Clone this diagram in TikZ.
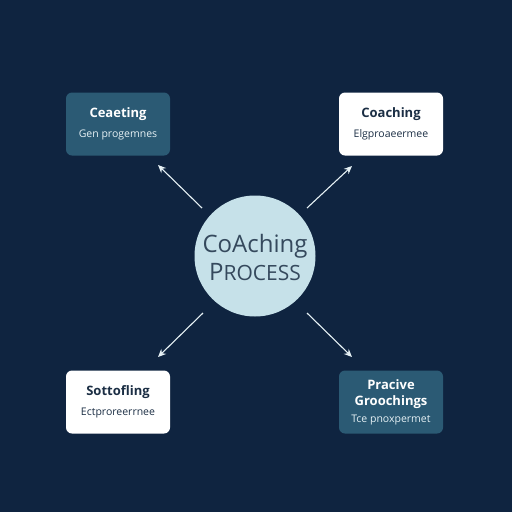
\documentclass[tikz,border=0pt]{standalone}
\usepackage{fontspec}
\setmainfont{Open Sans}
\usetikzlibrary{arrows.meta}
\definecolor{bg}{HTML}{0F2440}
\definecolor{teal}{HTML}{2B5A74}
\definecolor{circ}{HTML}{C6E1E9}
\definecolor{ink}{HTML}{1B2E44}
\definecolor{lite}{HTML}{E6F1F5}
\newcommand{\ttlf}{\fontsize{13}{16}\selectfont\bfseries}
\newcommand{\subf}{\fontsize{10.5}{13}\selectfont}
\tikzset{
  card/.style={rounded corners=6pt, minimum width=104pt, minimum height=63pt, inner sep=0pt, align=center, font=\fontsize{13}{16}\selectfont},
  darkcard/.style={card, fill=teal, text=lite},
  lightcard/.style={card, fill=white, text=ink},
  conn/.style={draw=lite, line width=1.1pt, -{Stealth[length=8pt,width=7pt]}}
}
\begin{document}
\begin{tikzpicture}[x=1pt,y=-1pt]
\fill[bg] (0,0) rectangle (512,512);
\useasboundingbox (0,0) rectangle (512,512);
\node[circle, fill=circ, minimum size=121pt, inner sep=0pt] (c) at (255,256) {};
\node[text=ink!85!circ, align=center, font=\fontsize{24}{30}\selectfont] (ct) at (255,257) {CoAching\\[-2pt]P{\fontsize{21}{30}\selectfont ROCESS}};
\node[darkcard] (tl) at (118,124) {\textcolor{white}{\ttlf Ceaeting}\\[4pt]{\subf Gen progemnes}};
\node[lightcard] (tr) at (391,124) {{\ttlf Coaching}\\[4pt]{\subf Elgproaeermee}};
\node[lightcard] (bl) at (118,402) {{\ttlf Sottofling}\\[4pt]{\subf Ectproreerrnee}};
\node[darkcard] (br) at (391,402) {\textcolor{white}{\ttlf Pracive}\\\textcolor{white}{\ttlf Groochings}\\[1pt]{\subf Tce pnoxpermet}};
\coordinate (a1s) at (202,208); \coordinate (a1e) at (158,165);
\coordinate (a2s) at (307,208); \coordinate (a2e) at (352,166);
\coordinate (a3s) at (203,313); \coordinate (a3e) at (158,357);
\coordinate (a4s) at (307,313); \coordinate (a4e) at (352,357);
\draw[conn] (a1s) -- (a1e);
\draw[conn] (a2s) -- (a2e);
\draw[conn] (a3s) -- (a3e);
\draw[conn] (a4s) -- (a4e);
\end{tikzpicture}
\end{document}
